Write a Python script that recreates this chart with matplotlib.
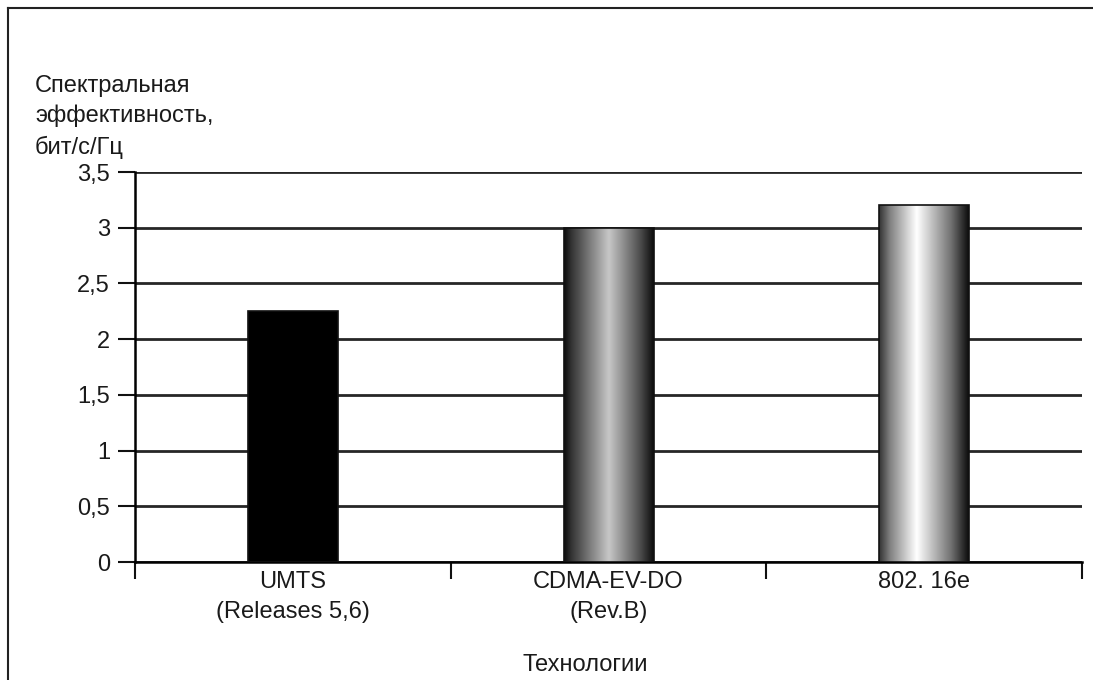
#! /usr/bin/env python3
# -*- coding:utf-8 -*-

import numpy as np
import matplotlib
matplotlib.use("Agg")
import matplotlib.pyplot as plt
from matplotlib.lines import Line2D

matplotlib.rc("font", family=["Liberation Sans", "DejaVu Sans"])

# технологии и спектральная эффективность, бит/с/Гц
technologies = ["UMTS\n(Releases 5,6)", "CDMA-EV-DO\n(Rev.B)", "802. 16e"]
efficiency = [2.25, 3.0, 3.2]
y_ticks = [0, 0.5, 1, 1.5, 2, 2.5, 3, 3.5]

# заливка столбцов: сплошная, "цилиндр", "цилиндр" с бликом
shades = [
    ([0.0, 1.0], [0.0, 0.0]),
    ([0.0, 0.08, 0.5, 0.85, 1.0], [0.05, 0.2, 0.78, 0.3, 0.05]),
    ([0.0, 0.12, 0.42, 0.8, 1.0], [0.2, 0.5, 1.0, 0.45, 0.05]),
]


def display():
    fig = plt.figure(figsize=(10.93, 6.8), dpi=100)
    ax = fig.add_axes([0.1235, 0.1735, 0.8665, 0.5735])

    x = np.arange(len(technologies))
    bars = ax.bar(x, efficiency, width=0.285, color="none", edgecolor="none", zorder=3)

    xs = np.linspace(0, 1, 256)
    for bar, (pos, val) in zip(bars, shades):
        g = np.interp(xs, pos, val)
        img = np.tile(g, (2, 1))
        x0, y0 = bar.get_x(), bar.get_y()
        w, h = bar.get_width(), bar.get_height()
        im = ax.imshow(img, cmap="gray", vmin=0, vmax=1, aspect="auto",
                       extent=(x0, x0 + w, y0, y0 + h), zorder=3,
                       interpolation="bilinear")
        im.set_clip_path(bar)
        ax.add_patch(plt.Rectangle((x0, y0), w, h, fill=False,
                                   edgecolor="#111111", linewidth=1.2, zorder=4))

    ax.set_xlim(-0.5, len(technologies) - 0.5)
    ax.set_ylim(0, 3.5)

    ax.set_yticks(y_ticks)
    ax.set_yticklabels([("%g" % t).replace(".", ",") for t in y_ticks])
    ax.yaxis.grid(True, color="#262626", linewidth=2.0)
    ax.set_axisbelow(True)

    # деления по оси X — между категориями
    ax.set_xticks(np.arange(len(technologies) + 1) - 0.5)
    ax.set_xticklabels([""] * (len(technologies) + 1))
    ax.tick_params(axis="x", direction="out", length=12, width=1.5, color="#111111")
    ax.tick_params(axis="y", direction="out", length=12, width=1.5, color="#111111",
                   labelsize=17, pad=6, labelcolor="#1a1a1a")
    for xi, name in zip(x, technologies):
        ax.text(xi, -0.08, name, ha="center", va="top", fontsize=17,
                linespacing=1.5, color="#1a1a1a")

    for side in ["top", "right"]:
        ax.spines[side].set_visible(False)
    ax.spines["left"].set_linewidth(1.8)
    ax.spines["bottom"].set_linewidth(1.8)

    fig.text(0.032, 0.89, "Спектральная\nэффективность,\nбит/с/Гц", ha="left", va="top",
             fontsize=17, linespacing=1.45, color="#1a1a1a")
    fig.text(0.535, 0.006, "Технологии", ha="center", va="bottom", fontsize=17,
             color="#1a1a1a")

    # рамка
    fig.add_artist(Line2D([0.0075, 0.0075], [0, 0.988], color="#222222", linewidth=1.5))
    fig.add_artist(Line2D([0.0075, 1.0], [0.988, 0.988], color="#222222", linewidth=1.5))

    fig.savefig("out.png", dpi=100)


if __name__ == '__main__':
    display()
